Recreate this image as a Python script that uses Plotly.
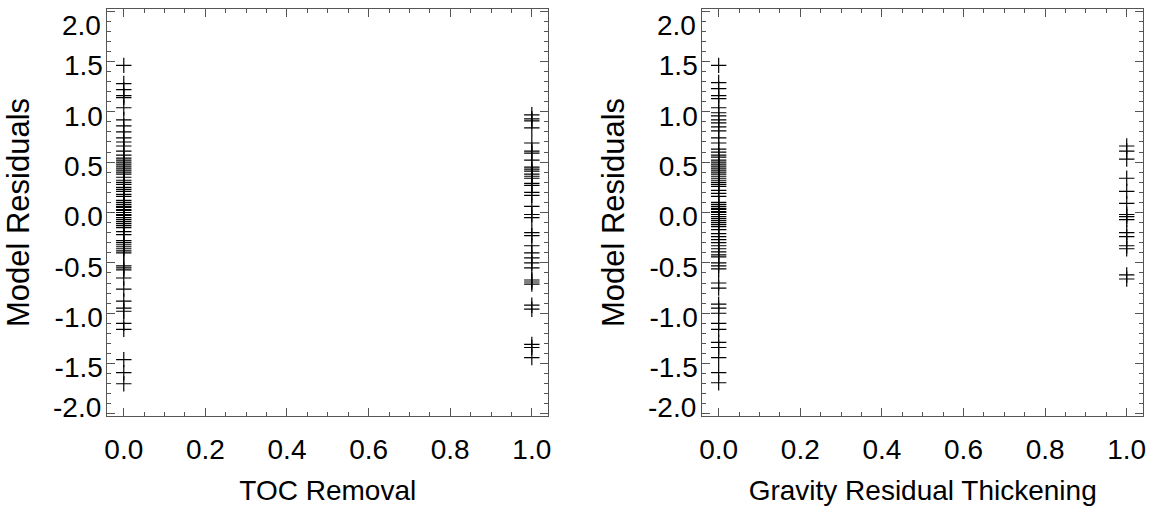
import plotly.graph_objects as go

# ---- data ----
toc_group_values = [0.0, 1.0]
grav_group_values = [0.0, 1.0]

toc0_resid = [1.46, 1.28, 1.22, 1.16, 1.14, 1.04, 0.92, 0.86, 0.80, 0.74, 0.70, 0.66, 0.61,
              0.57, 0.54, 0.52, 0.50, 0.48, 0.46, 0.44, 0.42, 0.40, 0.38, 0.35, 0.32, 0.30,
              0.28, 0.25, 0.23, 0.21, 0.18, 0.16, 0.12, 0.10, 0.08, 0.06, 0.05, 0.03, 0.02,
              0.00, -0.02, -0.03, -0.05, -0.07, -0.09, -0.11, -0.13, -0.15, -0.19, -0.22,
              -0.28, -0.30, -0.32, -0.34, -0.36, -0.38, -0.40, -0.53, -0.55, -0.57, -0.65,
              -0.76, -0.88, -0.95, -0.98, -1.10, -1.16, -1.46, -1.59, -1.70]
toc1_resid = [0.97, 0.93, 0.91, 0.84, 0.69, 0.61, 0.59, 0.52, 0.45, 0.43, 0.41, 0.38, 0.36,
              0.34, 0.29, 0.27, 0.20, 0.17, 0.06, -0.02, -0.05, -0.20, -0.23, -0.33, -0.40,
              -0.45, -0.50, -0.55, -0.67, -0.69, -0.71, -0.92, -0.96, -1.31, -1.34, -1.44]
grav0_resid = [1.46, 1.29, 1.23, 1.16, 1.13, 1.04, 0.99, 0.96, 0.92, 0.89, 0.85, 0.81, 0.74,
               0.69, 0.63, 0.60, 0.57, 0.55, 0.52, 0.50, 0.48, 0.46, 0.44, 0.42, 0.40, 0.38,
               0.36, 0.34, 0.32, 0.30, 0.28, 0.26, 0.22, 0.19, 0.16, 0.10, 0.08, 0.06, 0.04,
               0.03, 0.01, 0.00, -0.02, -0.04, -0.06, -0.08, -0.10, -0.12, -0.14, -0.17,
               -0.21, -0.24, -0.27, -0.30, -0.33, -0.36, -0.39, -0.42, -0.44, -0.50, -0.53,
               -0.56, -0.70, -0.75, -0.91, -0.95, -1.00, -1.10, -1.16, -1.29, -1.34, -1.44,
               -1.59, -1.69]
grav1_resid = [0.66, 0.61, 0.53, 0.34, 0.21, 0.09, -0.02, -0.04, -0.07, -0.20, -0.24, -0.33,
               -0.36, -0.62, -0.66]

x_titles = ["TOC Removal", "Gravity Residual Thickening"]
y_title = "Model Residuals"
ytick_vals = [-2.0, -1.5, -1.0, -0.5, 0.0, 0.5, 1.0, 1.5, 2.0]
ytick_text = ["-2.0", "-1.5", "-1.0", "-0.5", "0.0", "0.5", "1.0", "1.5", "2.0"]
xtick_vals = [0.0, 0.2, 0.4, 0.6, 0.8, 1.0]
xtick_text = ["0.0", "0.2", "0.4", "0.6", "0.8", "1.0"]

# ---- figure ----
W, H = 1154, 510
FONT = "Liberation Sans, Arial, Helvetica, sans-serif"
AX = "#555555"

fig = go.Figure()
marker = dict(symbol="cross-thin-open", size=11, color="black",
              line=dict(color="black", width=1.2))

groups = [
    ("x", "y", toc_group_values, [toc0_resid, toc1_resid]),
    ("x2", "y2", grav_group_values, [grav0_resid, grav1_resid]),
]
for xa, ya, gvals, series in groups:
    for g, res in zip(gvals, series):
        fig.add_trace(go.Scatter(x=[g] * len(res), y=res, mode="markers",
                                 marker=marker, xaxis=xa, yaxis=ya,
                                 showlegend=False, hoverinfo="skip"))

px_x = lambda p: p / W
px_y = lambda p: 1 - p / H
ydom = [px_y(416), px_y(9)]
xdoms = [[px_x(105), px_x(548)], [px_x(703), px_x(1146)]]

# hide end labels on the axis; they're drawn nudged inward like the reference
ytext_axis = [("" if abs(v) == 2.0 else t) for v, t in zip(ytick_vals, ytick_text)]

common_x = dict(range=[-0.04, 1.04], tickmode="array", tickvals=xtick_vals, ticktext=xtick_text,
                ticks="inside", ticklen=8, tickwidth=1, tickcolor=AX,
                minor=dict(ticks="inside", ticklen=4, dtick=0.05, tickcolor=AX, tickwidth=1),
                showline=True, linecolor=AX, linewidth=1, mirror="allticks",
                showgrid=False, zeroline=False,
                tickfont=dict(family=FONT, size=28, color="black"),
                title_font=dict(family=FONT, size=28, color="black"),
                title_standoff=16, ticklabelstandoff=8)
common_y = dict(range=[-2.02, 2.02], tickmode="array", tickvals=ytick_vals, ticktext=ytext_axis,
                ticks="inside", ticklen=8, tickwidth=1, tickcolor=AX,
                minor=dict(ticks="inside", ticklen=4, dtick=0.1, tickcolor=AX, tickwidth=1),
                showline=True, linecolor=AX, linewidth=1, mirror="allticks",
                showgrid=False, zeroline=False,
                tickfont=dict(family=FONT, size=28, color="black"),
                title_font=dict(family=FONT, size=31, color="black"),
                title_standoff=15, ticklabelshift=4, ticklabelstandoff=-2)

fig.update_layout(
    width=W, height=H, margin=dict(l=0, r=0, t=0, b=0),
    paper_bgcolor="white", plot_bgcolor="white",
    xaxis=dict(domain=xdoms[0], anchor="y", title_text=x_titles[0], **common_x),
    yaxis=dict(domain=ydom, anchor="x", title_text=y_title, **common_y),
    xaxis2=dict(domain=xdoms[1], anchor="y2", title_text=x_titles[1], **common_x),
    yaxis2=dict(domain=ydom, anchor="x2", title_text=y_title, **common_y),
)

anns = []
for xa, ya, dom in [("x", "y", xdoms[0]), ("x2", "y2", xdoms[1])]:
    for v, t in zip(ytick_vals, ytick_text):
        if abs(v) == 2.0:
            anns.append(dict(x=dom[0], xref="paper", y=v, yref=ya, text=t,
                             showarrow=False, xanchor="right", yanchor="middle",
                             xshift=-4, yshift=(-14 if v > 0 else 6),
                             font=dict(family=FONT, size=28, color="black")))
fig.update_layout(annotations=anns)

fig.write_html("out.html", config={"displayModeBar": False},
               post_script="document.body.style.margin='0';document.body.style.overflow='hidden';")
